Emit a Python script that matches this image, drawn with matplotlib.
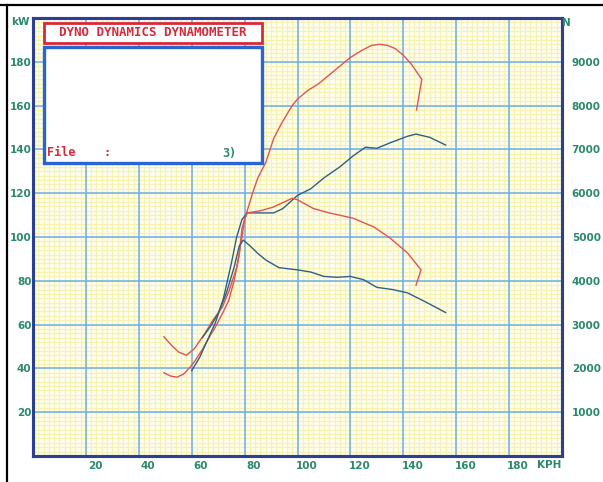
"""Dyno chart: power and tractive force vs road speed."""
import matplotlib
matplotlib.use("Agg")
import matplotlib.pyplot as plt
import matplotlib.transforms as mtransforms
from matplotlib.lines import Line2D
from matplotlib.patches import Rectangle
import numpy as np

# ---- data ----
# run A (red): power kW
red_pw_kph = [49.5, 52, 54.5, 57, 59, 61, 64, 67, 69, 72, 74, 76, 78, 79, 81, 83, 85, 88, 91,
              94, 96, 98, 100, 104, 108, 112, 116, 120, 124, 128, 131, 134, 137, 140, 143,
              147, 146, 145]
red_pw_kw = [38, 36.5, 36, 37.5, 40, 43, 48.6, 55, 59, 66, 71, 80, 92, 104, 112, 120, 127, 134,
             145, 152, 156, 160, 163, 167, 170, 174, 178, 182, 185, 187.5, 188, 187.5, 186,
             183, 179, 172, 165, 158]
# run A (red): tractive force N
red_tf_kph = [49.5, 52, 55, 58, 61, 65, 68, 71.6, 74, 77, 79, 80, 81, 86, 90.7, 95, 98, 100,
              106, 112, 121, 129, 135, 141.6, 146.7, 144.8]
red_tf_n = [2725, 2550, 2375, 2300, 2450, 2800, 3100, 3400, 3750, 4300, 5000, 5400, 5550,
            5600, 5680, 5800, 5885, 5850, 5650, 5550, 5430, 5225, 4975, 4635, 4250, 3900]
# run B (blue): power kW
blue_pw_kph = [60, 63, 66, 69, 72, 75, 77, 79, 81, 86, 91, 94.5, 100, 105, 110, 116, 121,
               125.7, 130, 135, 141.6, 144.8, 150, 156]
blue_pw_kw = [39, 45, 53, 61, 72, 88, 100, 108, 111, 111, 111, 113, 119, 122, 127, 132, 137,
              141, 140.5, 143, 146, 147, 145.5, 142]
# run B (blue): tractive force N
blue_tf_kph = [64, 67, 70, 73, 76, 78, 79.5, 82, 85, 88, 93, 100, 105, 110, 115, 120, 125,
               130, 136, 141.6, 149, 156]
blue_tf_n = [2700, 2950, 3250, 3700, 4300, 4800, 4930, 4800, 4625, 4475, 4300, 4250, 4200,
             4100, 4080, 4100, 4025, 3850, 3800, 3725, 3500, 3275]

x_ticks = [20, 40, 60, 80, 100, 120, 140, 160, 180]
kw_ticks = [20, 40, 60, 80, 100, 120, 140, 160, 180]
n_ticks = [1000, 2000, 3000, 4000, 5000, 6000, 7000, 8000, 9000]

RED = "#e2544e"
BLUE = "#2f5f86"
GRID = "#6eaee4"
MINOR = "#f6f2b0"
SPINE = "#2c3f92"
LABEL = "#2a8a68"

fig = plt.figure(figsize=(6.03, 4.82), dpi=100)
ax = fig.add_axes([33 / 603, 26 / 482, 529 / 603, 438 / 482])
ax.set_xlim(0, 200)
ax.set_ylim(0, 200)
ax.set_facecolor("#fffef4")

# yellow fine grid, blue major grid
for v in np.arange(0, 201, 2):
    ax.axvline(v, color=MINOR, lw=0.9, zorder=0)
    ax.axhline(v, color=MINOR, lw=0.9, zorder=0)
for v in range(20, 200, 20):
    ax.axvline(v, color=GRID, lw=1.1, zorder=1)
    ax.axhline(v, color=GRID, lw=1.1, zorder=1)

ax2 = ax.twinx()
ax2.set_ylim(0, 10000)

ax.plot(red_pw_kph, red_pw_kw, color=RED, lw=1.0, zorder=3)
ax2.plot(red_tf_kph, red_tf_n, color=RED, lw=1.0, zorder=3)
ax.plot(blue_pw_kph, blue_pw_kw, color=BLUE, lw=1.0, zorder=4)
ax2.plot(blue_tf_kph, blue_tf_n, color=BLUE, lw=1.0, zorder=4)

for a in (ax, ax2):
    for s in a.spines.values():
        s.set_color(SPINE)
        s.set_linewidth(2.2)

ax.set_xticks(x_ticks)
ax.set_yticks(kw_ticks)
ax2.set_yticks(n_ticks)
ax.tick_params(axis="both", length=0, colors=LABEL, labelsize=7.5)
ax2.tick_params(axis="y", length=0, colors=LABEL, labelsize=7.5, pad=7)
for t in ax.get_xticklabels() + ax.get_yticklabels() + ax2.get_yticklabels():
    t.set_fontweight("bold")
off = mtransforms.ScaledTranslation(9 / 100, 0, fig.dpi_scale_trans)
for t in ax.get_xticklabels():
    t.set_transform(t.get_transform() + off)
ax.tick_params(axis="y", pad=1)

fig.text(20 / 603, 1 - 22 / 482, "kW", color=LABEL, fontsize=7.5, fontweight="bold",
         ha="center", va="center")
fig.text(566 / 603, 1 - 23 / 482, "N", color=LABEL, fontsize=7.5, fontweight="bold",
         ha="center", va="center")
fig.text(549 / 603, 1 - 465 / 482, "KPH", color=LABEL, fontsize=7.5, fontweight="bold",
         ha="center", va="center")

# info boxes
def px_rect(x0, y0, x1, y1, ec, lw):
    r = Rectangle((x0 / 603, 1 - y1 / 482), (x1 - x0) / 603, (y1 - y0) / 482,
                  transform=fig.transFigure, facecolor="white", edgecolor=ec, lw=lw, zorder=10)
    fig.add_artist(r)

px_rect(44, 23, 262, 43, "#d8283a", 2.0)
px_rect(44, 47, 262, 163, "#2a64d0", 2.4)
fig.text(153 / 603, 1 - 33 / 482, "DYNO DYNAMICS DYNAMOMETER", color="#d8283a",
         fontsize=9, fontweight="bold", family="DejaVu Sans Mono", ha="center", va="center",
         zorder=11)
fig.text(47 / 603, 1 - 153 / 482, "File    :", color="#d8283a", fontsize=8.5,
         fontweight="bold", family="DejaVu Sans Mono", ha="left", va="center", zorder=11)
fig.text(222 / 603, 1 - 153 / 482, "3)", color=LABEL, fontsize=8.5, fontweight="bold",
         family="DejaVu Sans Mono", ha="left", va="center", zorder=11)

# black frame of the screen capture
fig.add_artist(Line2D([0, 1], [1 - 4.5 / 482] * 2, color="black", lw=1.6,
                      transform=fig.transFigure))
fig.add_artist(Line2D([7 / 603] * 2, [0, 1 - 4.5 / 482], color="black", lw=1.6,
                      transform=fig.transFigure))

fig.savefig("out.png", dpi=100)
